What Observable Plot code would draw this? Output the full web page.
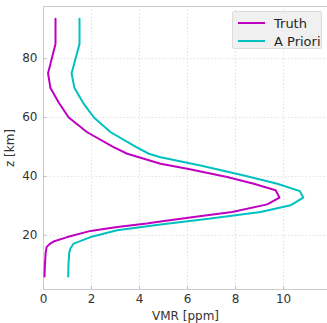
<!DOCTYPE html>
<html>
<head>
<meta charset="utf-8">
<script src="https://cdn.jsdelivr.net/npm/d3@7"></script>
<script src="https://cdn.jsdelivr.net/npm/@observablehq/plot@0.6"></script>
<style>
  html, body { margin: 0; padding: 0; background: #fff; }
  #wrap { position: relative; width: 327px; height: 323px; font-family: "DejaVu Sans", sans-serif; }
  #wrap svg { display: block; }
  #legend { position: absolute; left: 232px; top: 11px; width: 90px; height: 38px; background: #f0f0f0; border: 1px solid #dcdcdc; border-radius: 2px; box-sizing: border-box; }
  .row { position: absolute; left: 5px; height: 16px; display: flex; align-items: center; font-size: 13px; color: #262626; }
  .sw { width: 27px; height: 2px; margin-right: 9px; }
</style>
</head>
<body>
<div id="wrap"><div id="legend"></div></div>
<script>
const seriesNames = ["Truth", "A Priori"];
const seriesColors = ["#c000c0", "#00c0c0"];

const truthZ   = [6, 10, 14, 16, 17, 18, 19.4, 21.5, 22.8, 24, 24.7, 26.2, 27.9, 30.5, 32.8, 35.3, 37.5, 39.8, 42.6, 44.3, 47.7, 50, 55, 60, 65, 70, 75, 85, 93.5];
const truthVMR = [0.04, 0.06, 0.09, 0.13, 0.25, 0.45, 0.99, 1.96, 3.07, 4.3, 4.875, 6.26, 7.86, 9.32, 9.83, 9.67, 8.76, 7.65, 5.99, 4.875, 3.49, 2.9, 1.82, 1.05, 0.64, 0.29, 0.19, 0.5, 0.5];

const aprioriZ   = [6, 10, 14, 15.5, 17.2, 19.4, 21.7, 23.7, 25.7, 27.9, 30.2, 32.8, 35, 37.5, 40.3, 43.7, 46.5, 47.7, 50, 55, 60, 65, 70, 75, 85, 93.5];
const aprioriVMR = [1.03, 1.04, 1.07, 1.12, 1.26, 1.96, 3.07, 4.875, 6.96, 9.04, 10.29, 10.82, 10.68, 9.74, 8.35, 6.54, 4.875, 4.39, 3.85, 2.8, 2.1, 1.65, 1.29, 1.17, 1.5, 1.5];

const xTicks = [0, 2, 4, 6, 8, 10];
const yTicks = [20, 40, 60, 80];

const data = [
  ...truthZ.map((z, i) => ({series: seriesNames[0], z, vmr: truthVMR[i]})),
  ...aprioriZ.map((z, i) => ({series: seriesNames[1], z, vmr: aprioriVMR[i]}))
];

const blank = () => "";

const chart = Plot.plot({
  width: 327,
  height: 323,
  marginLeft: 43,
  marginRight: 0,
  marginTop: 6,
  marginBottom: 34,
  style: {fontFamily: "DejaVu Sans, sans-serif", fontSize: "12px", color: "#333", background: "#fff"},
  x: {domain: [0, 11.83]},
  y: {domain: [1.6, 97.7]},
  color: {domain: seriesNames, range: seriesColors},
  marks: [
    Plot.gridX(xTicks, {stroke: "#e0e0e0", strokeOpacity: 1, strokeDasharray: "1.5,2"}),
    Plot.gridY(yTicks, {stroke: "#e0e0e0", strokeOpacity: 1, strokeDasharray: "1.5,2"}),
    Plot.frame({anchor: "top", stroke: "#cccccc"}),
    Plot.frame({anchor: "left", stroke: "#cccccc"}),
    Plot.frame({anchor: "bottom", stroke: "#cccccc"}),
    Plot.axisX({ticks: xTicks, tickSize: 0, tickPadding: 5, fontSize: 12, label: "VMR [ppm]", labelAnchor: "center", labelArrow: "none", labelOffset: 30}),
    Plot.axisX({ticks: xTicks, tickSize: -3, tickFormat: blank, label: null, stroke: "#bbb"}),
    Plot.axisY({ticks: yTicks, tickSize: 0, tickPadding: 6, fontSize: 12, label: "z [km]", labelAnchor: "center", labelArrow: "none", labelOffset: 38}),
    Plot.axisY({ticks: yTicks, tickSize: -3, tickFormat: blank, label: null, stroke: "#bbb"}),
    Plot.line(data, {x: "vmr", y: "z", z: "series", stroke: "series", strokeWidth: 2, curve: "linear"})
  ]
});
document.getElementById("wrap").prepend(chart);

const legend = document.getElementById("legend");
seriesNames.forEach((name, i) => {
  const row = document.createElement("div");
  row.className = "row";
  row.style.top = (3 + i * 18) + "px";
  const sw = document.createElement("div");
  sw.className = "sw";
  sw.style.background = seriesColors[i];
  row.appendChild(sw);
  row.appendChild(document.createTextNode(name));
  legend.appendChild(row);
});
</script>
</body>
</html>
